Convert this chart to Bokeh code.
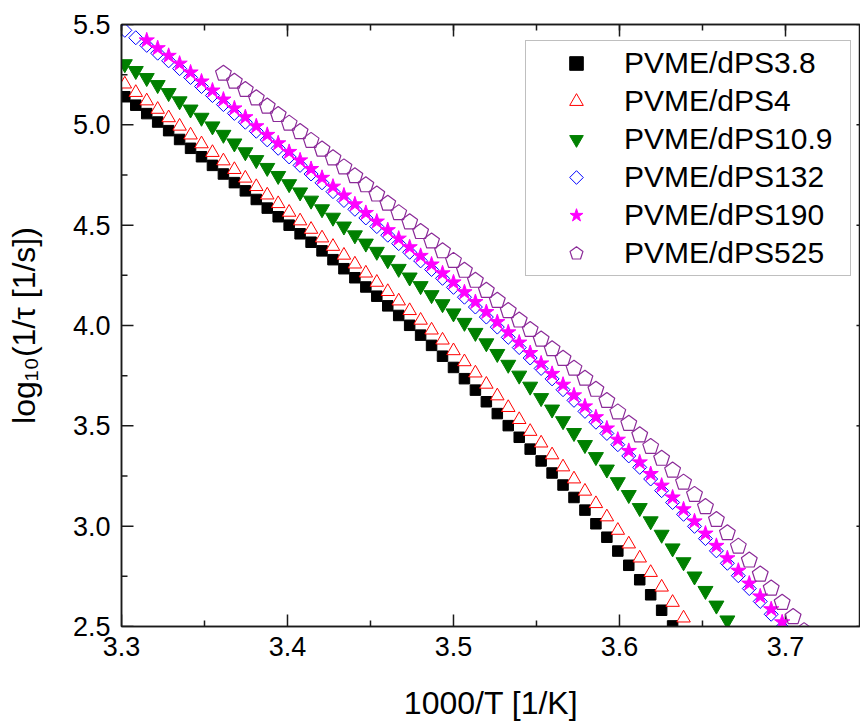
from bokeh.plotting import figure
from bokeh.models import (Range1d, SingleIntervalTicker, LinearAxis, Legend, LegendItem,
                          ColumnDataSource, CustomJSTickFormatter, PrintfTickFormatter)
from bokeh.embed import file_html
from bokeh.resources import INLINE

# 1000/T grid [1/K]
inv_T = [3.302, 3.3086, 3.3152, 3.3218, 3.3284, 3.335, 3.3416, 3.3482, 3.3548, 3.3614,
         3.368, 3.3746, 3.3812, 3.3878, 3.3944, 3.401, 3.4076, 3.4142, 3.4208, 3.4274,
         3.434, 3.4406, 3.4472, 3.4538, 3.4604, 3.467, 3.4736, 3.4802, 3.4868, 3.4934,
         3.5, 3.5066, 3.5132, 3.5198, 3.5264, 3.533, 3.5396, 3.5462, 3.5528, 3.5594,
         3.566, 3.5726, 3.5792, 3.5858, 3.5924, 3.599, 3.6056, 3.6122, 3.6188, 3.6254,
         3.632, 3.6386, 3.6452, 3.6518, 3.6584, 3.665, 3.6716, 3.6782, 3.6848, 3.6914,
         3.698, 3.7046, 3.7112]

# log10(1/tau) values
y_dps3_8 = [5.140, 5.098, 5.056, 5.014, 4.971, 4.927, 4.883, 4.841, 4.798, 4.755,
            4.712, 4.671, 4.628, 4.585, 4.542, 4.500, 4.457, 4.415, 4.372, 4.328,
            4.283, 4.238, 4.192, 4.146, 4.098, 4.050, 4.001, 3.952, 3.901, 3.847,
            3.791, 3.735, 3.678, 3.620, 3.561, 3.501, 3.443, 3.384, 3.325, 3.265,
            3.205, 3.143, 3.080, 3.012, 2.945, 2.876, 2.805, 2.733, 2.658, 2.581,
            2.503]
y_dps4 = [5.203, 5.161, 5.119, 5.077, 5.035, 4.993, 4.949, 4.905, 4.862, 4.820,
          4.777, 4.734, 4.692, 4.650, 4.607, 4.564, 4.521, 4.479, 4.436, 4.394,
          4.350, 4.306, 4.261, 4.215, 4.169, 4.122, 4.074, 4.026, 3.977, 3.927,
          3.874, 3.819, 3.763, 3.707, 3.649, 3.591, 3.531, 3.472, 3.414, 3.355,
          3.295, 3.235, 3.174, 3.112, 3.046, 2.979, 2.911, 2.841, 2.769, 2.696,
          2.620, 2.542]
y_dps10_9 = [5.303, 5.269, 5.234, 5.199, 5.159, 5.118, 5.077, 5.036, 4.993, 4.951,
             4.908, 4.864, 4.825, 4.786, 4.746, 4.705, 4.664, 4.623, 4.580, 4.538,
             4.494, 4.450, 4.409, 4.368, 4.326, 4.283, 4.240, 4.197, 4.152, 4.107,
             4.061, 4.014, 3.964, 3.912, 3.859, 3.805, 3.751, 3.696, 3.639, 3.582,
             3.524, 3.465, 3.405, 3.345, 3.283, 3.220, 3.156, 3.091, 3.025, 2.958,
             2.890, 2.821, 2.750, 2.678, 2.605, 2.531]
y_dps132 = [5.471, 5.434, 5.396, 5.357, 5.319, 5.280, 5.236, 5.191, 5.146, 5.101,
            5.057, 5.013, 4.968, 4.925, 4.883, 4.840, 4.798, 4.755, 4.711, 4.667,
            4.623, 4.579, 4.536, 4.493, 4.450, 4.408, 4.365, 4.322, 4.279, 4.235,
            4.190, 4.141, 4.092, 4.042, 3.992, 3.941, 3.890, 3.838, 3.786, 3.734,
            3.680, 3.627, 3.572, 3.518, 3.462, 3.406, 3.350, 3.293, 3.235, 3.177,
            3.118, 3.059, 2.999, 2.938, 2.877, 2.815, 2.753, 2.689, 2.625, 2.561,
            2.496]
y_dps190 = [5.421, 5.382, 5.344, 5.305, 5.261, 5.216, 5.171, 5.126,
            5.082, 5.038, 4.993, 4.950, 4.908, 4.865, 4.823, 4.780, 4.736, 4.692,
            4.648, 4.604, 4.561, 4.518, 4.475, 4.433, 4.390, 4.347, 4.304, 4.260,
            4.215, 4.166, 4.117, 4.067, 4.017, 3.966, 3.915, 3.863, 3.811, 3.759,
            3.705, 3.652, 3.597, 3.543, 3.487, 3.431, 3.375, 3.318, 3.260, 3.202,
            3.143, 3.084, 3.024, 2.963, 2.902, 2.840, 2.778, 2.714, 2.650, 2.586,
            2.521]
y_dps525 = [5.256, 5.216, 5.175, 5.133, 5.092, 5.050, 5.007, 4.965, 4.921, 4.878,
            4.834, 4.789, 4.745, 4.700, 4.654, 4.608, 4.561, 4.515, 4.467, 4.420,
            4.371, 4.323, 4.274, 4.224, 4.174, 4.124, 4.073, 4.026, 3.979, 3.931,
            3.883, 3.835, 3.786, 3.736, 3.681, 3.625, 3.568, 3.511, 3.454, 3.396,
            3.337, 3.278, 3.218, 3.157, 3.096, 3.032, 2.966, 2.899, 2.830, 2.760,
            2.690, 2.619, 2.548, 2.478]

x_dps3_8 = inv_T[0:51]
x_dps4 = inv_T[0:52]
x_dps10_9 = inv_T[0:56]
x_dps132 = inv_T[0:61]
x_dps190 = inv_T[2:61]
x_dps525 = inv_T[9:63]

labels = ["PVME/dPS3.8", "PVME/dPS4", "PVME/dPS10.9", "PVME/dPS132", "PVME/dPS190", "PVME/dPS525"]

# axis ticks
x_major = [3.3, 3.4, 3.5, 3.6, 3.7]
x_minor = [3.35, 3.45, 3.55, 3.65]
y_major = [2.5, 3.0, 3.5, 4.0, 4.5, 5.0, 5.5]
y_minor = [2.75, 3.25, 3.75, 4.25, 4.75, 5.25]

FONT = "Liberation Sans"
AX = "#1a1a1a"

X0, X1, XR = 3.3, 3.7452, 3.75   # XR: right frame edge of the original (just outside the picture)
Y0, Y1 = 2.5, 5.5
FW, FH = 739, 602

p = figure(width=860, height=726, x_range=Range1d(X0, X1), y_range=Range1d(Y0, Y1),
           output_backend="svg", toolbar_location=None,
           min_border_left=121, min_border_right=0, min_border_top=24, min_border_bottom=100)
p.background_fill_color = "white"
p.border_fill_color = "white"
p.xgrid.visible = False
p.ygrid.visible = False
p.outline_line_color = AX
p.outline_line_width = 1.5

def style_axis(ax, show_labels=True):
    ax.axis_line_color = AX
    ax.axis_line_width = 1.5
    ax.major_tick_line_color = AX
    ax.minor_tick_line_color = AX
    ax.major_tick_line_width = 1.5
    ax.minor_tick_line_width = 1.5
    ax.major_tick_in = 0
    ax.major_tick_out = 0
    ax.minor_tick_in = 0
    ax.minor_tick_out = 0
    ax.major_label_text_font = FONT
    ax.major_label_text_color = "black"
    ax.axis_label_text_font = FONT
    ax.axis_label_text_font_style = "normal"
    ax.axis_label_text_color = "black"
    if not show_labels:
        ax.formatter = CustomJSTickFormatter(code="return ''")
        ax.major_label_text_font_size = "0px"
        ax.major_label_standoff = 0

p.xaxis.ticker = SingleIntervalTicker(interval=0.1, num_minor_ticks=2)
p.yaxis.ticker = SingleIntervalTicker(interval=0.5, num_minor_ticks=2)
style_axis(p.xaxis[0])
style_axis(p.yaxis[0])
p.xaxis.formatter = PrintfTickFormatter(format="%.1f")
p.yaxis.formatter = PrintfTickFormatter(format="%.1f")
p.xaxis.major_label_text_font_size = "27px"
p.yaxis.major_label_text_font_size = "27px"
p.xaxis.major_label_standoff = 10
p.yaxis.major_label_standoff = 11
p.xaxis.axis_label = "1000/T [1/K]"
p.yaxis.axis_label = "log\u2081\u2080(1/\u03c4 [1/s])"
p.xaxis.axis_label_text_font_size = "32px"
p.yaxis.axis_label_text_font_size = "32px"
p.xaxis.axis_label_standoff = 26
p.yaxis.axis_label_standoff = 28

top = LinearAxis(ticker=SingleIntervalTicker(interval=0.1, num_minor_ticks=2))
style_axis(top, show_labels=False)
top.major_tick_in = 12
top.minor_tick_in = 6
p.add_layout(top, "above")

# inward tick marks (lengths in pixels converted to data units)
dx = (X1 - X0) / FW
dy = (Y1 - Y0) / FH
MAJ, MIN = 12, 6
tk = dict(line_color=AX, line_width=1.5)
# bottom: multi_line
p.multi_line(xs=[[v, v] for v in x_major], ys=[[Y0, Y0 + MAJ * dy] for v in x_major], **tk)
p.multi_line(xs=[[v, v] for v in x_minor], ys=[[Y0, Y0 + MIN * dy] for v in x_minor], **tk)
# left: segment
p.segment(x0=[X0] * len(y_major), y0=y_major, x1=[X0 + MAJ * dx] * len(y_major), y1=y_major, **tk)
p.segment(x0=[X0] * len(y_minor), y0=y_minor, x1=[X0 + MIN * dx] * len(y_minor), y1=y_minor, **tk)
# right: dash markers
p.scatter(x=[XR - MAJ / 2 * dx] * len(y_major), y=y_major, marker="dash", size=MAJ,
          line_color=AX, line_width=1.5)

src1 = ColumnDataSource(dict(x=x_dps3_8, y=y_dps3_8))
src2 = ColumnDataSource(dict(x=x_dps4, y=y_dps4))
src3 = ColumnDataSource(dict(x=x_dps10_9, y=y_dps10_9))
src4 = ColumnDataSource(dict(x=x_dps132, y=y_dps132))
src5 = ColumnDataSource(dict(x=x_dps190, y=y_dps190))
src6 = ColumnDataSource(dict(x=x_dps525, y=y_dps525))

r1 = p.scatter("x", "y", source=src1, marker="square", size=10.5,
               fill_color="black", line_color="black", line_width=1)
r2 = p.scatter("x", "y", source=src2, marker="triangle", size=13.5,
               fill_color="white", line_color="#ff0000", line_width=1)
r3 = p.scatter("x", "y", source=src3, marker="inverted_triangle", size=15,
               fill_color="#008000", line_color="#008000", line_width=1)
try:
    r4 = p.ngon("x", "y", source=src4, radius=7, radius_units="screen", n=4, angle=0,
                fill_alpha=0, line_color="#0000ff", line_width=1)
except Exception:
    r4 = p.scatter("x", "y", source=src4, marker="diamond", size=14,
                   fill_alpha=0, line_color="#0000ff", line_width=1)
r5 = p.scatter("x", "y", source=src5, marker="star", size=16,
               fill_color="#ff00ff", line_color="#ff00ff", line_width=1)
try:
    r6 = p.ngon("x", "y", source=src6, radius=8.3, radius_units="screen", n=5, angle=0,
                fill_alpha=0, line_color="#8b2a98", line_width=1.2)
except Exception:
    r6 = p.scatter("x", "y", source=src6, marker="hex", size=15,
                   fill_alpha=0, line_color="#8b2a98", line_width=1.2)

legend = Legend(items=[LegendItem(label=l, renderers=[r]) for l, r in
                       zip(labels, [r1, r2, r3, r4, r5, r6])])
legend.location = (404, 350)
legend.border_line_color = "#7f7f7f"
legend.border_line_width = 1.5
legend.background_fill_color = "white"
legend.background_fill_alpha = 1
legend.label_text_font = FONT
legend.label_text_font_size = "30px"
legend.label_text_color = "black"
legend.padding = 5
legend.spacing = 4
legend.label_height = 34
legend.glyph_height = 34
legend.glyph_width = 90
legend.label_standoff = 3
legend.label_width = 221
legend.margin = 0
p.add_layout(legend, "center")

open("out.html", "w").write(file_html(p, INLINE))
